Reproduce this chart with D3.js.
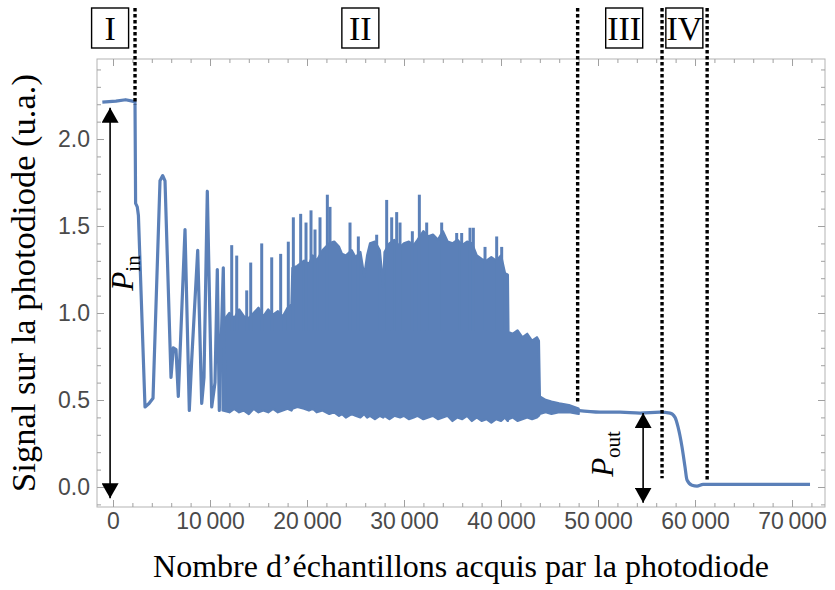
<!DOCTYPE html>
<html>
<head>
<meta charset="utf-8">
<script src="https://cdn.jsdelivr.net/npm/d3@7"></script>
<style>
  body { margin: 0; background: #fff; }
  svg { display: block; }
</style>
</head>
<body>
<div id="chart"></div>
<script>
// --- data ---
// region I and the first slow oscillations
const leadX = [-1100, 300, 1300, 2000, 2268, 2330, 2500, 2620, 3299, 3711, 4124, 4845, 5124, 5361, 5979, 6216, 6495, 6732, 7423, 7866, 8113, 8732, 9144, 9381, 9722, 10175, 10515, 10753, 10959, 11371, 11550];
const leadY = [2.212, 2.218, 2.226, 2.218, 2.214, 1.63, 1.61, 1.56, 0.46, 0.48, 0.51, 1.76, 1.79, 1.76, 0.63, 0.80, 0.79, 0.52, 1.48, 0.44, 0.73, 1.36, 0.48, 0.63, 1.70, 0.46, 0.60, 1.25, 0.44, 1.26, 0.45];

// dense part of region II: upper / lower envelope
const bandX = [11300, 12000, 12500, 13000, 13500, 14000, 14500, 15000, 15500, 16000,
    16500, 17000, 17500, 18000, 18400, 18500, 19000, 19700, 20200, 20600,
    21000, 21600, 22300, 22800, 23300, 23600, 24000, 24600, 25000, 25500,
    25900, 26200, 26500, 27000, 27500, 27850, 28000, 28500, 29000, 29600,
    30000, 30500, 31000, 31400, 32000, 32500, 33000, 33500, 34000, 34500,
    35000, 35500, 36000, 36500, 37000, 37500, 38000, 38500, 39000, 39500,
    40000, 40400, 40700, 40760, 41200, 41700, 42200, 42700, 43200, 43700,
    43900, 44000, 44600, 45200, 46000, 47000, 48000];
const bandHi = [0.95, 1.00, 0.97, 1.02, 0.98, 0.97, 1.00, 1.03, 0.98, 1.02,
    0.99, 1.01, 0.98, 1.03, 1.05, 1.26, 1.27, 1.30, 1.28, 1.33,
    1.30, 1.36, 1.40, 1.41, 1.38, 1.34, 1.33, 1.36, 1.32, 1.35,
    1.21, 1.33, 1.40, 1.41, 1.36, 1.15, 1.35, 1.40, 1.42, 1.38,
    1.40, 1.41, 1.39, 1.42, 1.47, 1.44, 1.45, 1.42, 1.47, 1.41,
    1.40, 1.42, 1.39, 1.41, 1.40, 1.33, 1.31, 1.30, 1.32, 1.30,
    1.33, 1.23, 1.22, 0.89, 0.88, 0.90, 0.86, 0.88, 0.84, 0.86,
    0.84, 0.52, 0.50, 0.49, 0.48, 0.47, 0.45];
const bandLo = [0.44, 0.43, 0.45, 0.43, 0.44, 0.42, 0.45, 0.43, 0.44, 0.43,
    0.45, 0.43, 0.44, 0.45, 0.44, 0.45, 0.46, 0.45, 0.44, 0.45,
    0.43, 0.44, 0.42, 0.43, 0.41, 0.42, 0.40, 0.42, 0.41, 0.40,
    0.42, 0.40, 0.41, 0.39, 0.41, 0.40, 0.41, 0.39, 0.41, 0.40,
    0.41, 0.39, 0.40, 0.41, 0.39, 0.40, 0.41, 0.39, 0.40, 0.41,
    0.38, 0.40, 0.39, 0.41, 0.38, 0.40, 0.38, 0.39, 0.37, 0.39,
    0.38, 0.40, 0.38, 0.39, 0.40, 0.38, 0.39, 0.40, 0.39, 0.40,
    0.41, 0.42, 0.43, 0.42, 0.43, 0.43, 0.42];

// isolated peaks sticking out of the dense part
const spikeX = [12237, 12753, 13784, 14196, 15330, 16361, 17285, 18072, 18591, 19347,
    19897, 20412, 20825, 21340, 22096, 22371, 24433, 25292, 27182, 28213,
    28729, 29244, 29588, 30859, 31581, 32337, 33883, 35430, 35945, 36804,
    37148, 38351, 39553, 40069];
const spikeY = [1.39, 1.33, 1.13, 1.29, 1.40, 1.32, 1.34, 1.41, 1.55, 1.57,
    1.52, 1.59, 1.48, 1.55, 1.68, 1.61, 1.52, 1.44, 1.45, 1.65,
    1.55, 1.58, 1.52, 1.47, 1.68, 1.52, 1.52, 1.46, 1.46, 1.49,
    1.49, 1.38, 1.44, 1.38];

// regions III / IV and after
const tailX = [47835, 50206, 52268, 54330, 56392, 57423, 57938, 58247, 58660, 58969, 59175, 59691, 60206, 60825, 71856];
const tailY = [0.44, 0.43, 0.43, 0.425, 0.43, 0.425, 0.40, 0.345, 0.23, 0.115, 0.04, 0.01, 0.005, 0.015, 0.015];

const xTicks = [0, 10000, 20000, 30000, 40000, 50000, 60000, 70000];
const xTickLabels = ["0", "10\u2009000", "20\u2009000", "30\u2009000", "40\u2009000", "50\u2009000", "60\u2009000", "70\u2009000"];
const yTicks = [0, 0.5, 1, 1.5, 2];
const yTickLabels = ["0.0", "0.5", "1.0", "1.5", "2.0"];

const regionNames = ["I", "II", "III", "IV"];
const regionCenters = [-300, 25500, 52700, 58900];
const dividerX = [2270, 47900, 56600, 61250];
const dividerEnd = [2.2, 0.48, 0.05, 0.04];

// arrows: P_in and P_out
const pInX = -300, pInTop = 2.18, pInBottom = -0.065;
const pOutX = 54650, pOutTop = 0.425, pOutBottom = -0.09;

// --- chart ---
const width = 835;
const height = 590;
const frame = { left: 97, right: 825, top: 59, bottom: 507 };
const blue = "#5b80b8";

const svg = d3.select("#chart")
    .append("svg")
    .attr("width", width)
    .attr("height", height);

const x = d3.scaleLinear().domain([-1650, 73400]).range([frame.left, frame.right]);
const y = d3.scaleLinear().domain([-0.115, 2.46]).range([frame.bottom, frame.top]);

// signal
const line = d3.line().x(d => x(d[0])).y(d => y(d[1]));

const band = bandX.map((v, i) => ({ x: v, hi: bandHi[i], lo: bandLo[i] }));
svg.append("path")
    .datum(band)
    .attr("d", d3.area().x(d => x(d.x)).y0(d => y(d.lo)).y1(d => y(d.hi)))
    .attr("fill", blue)
    .attr("stroke", blue)
    .attr("stroke-width", 2.4)
    .attr("stroke-linejoin", "round");

svg.selectAll(".spike")
    .data(spikeX.map((v, i) => [v, spikeY[i]]))
    .enter().append("line")
    .attr("class", "spike")
    .attr("x1", d => x(d[0])).attr("x2", d => x(d[0]))
    .attr("y1", y(0.9)).attr("y2", d => y(d[1]))
    .attr("stroke", blue)
    .attr("stroke-width", 3);

svg.append("path")
    .datum(leadX.map((v, i) => [v, leadY[i]]))
    .attr("d", line)
    .attr("fill", "none")
    .attr("stroke", blue)
    .attr("stroke-width", 3.2)
    .attr("stroke-linejoin", "round");

svg.append("path")
    .datum(tailX.map((v, i) => [v, tailY[i]]))
    .attr("d", line.curve(d3.curveMonotoneX))
    .attr("fill", "none")
    .attr("stroke", blue)
    .attr("stroke-width", 3.2)
    .attr("stroke-linejoin", "round");

// frame and ticks
svg.append("rect")
    .attr("x", frame.left).attr("y", frame.top)
    .attr("width", frame.right - frame.left)
    .attr("height", frame.bottom - frame.top)
    .attr("fill", "none")
    .attr("stroke", "#b3b3b3")
    .attr("stroke-width", 1);

const xMinor = d3.range(2000, 72001, 2000).filter(v => v % 10000 !== 0);
const yMinor = d3.range(-1, 25).map(v => v / 10).filter(v => Math.round(v * 10) % 5 !== 0);

function tickAxis(axis, values, size) {
    return axis.tickValues(values).tickSize(size).tickFormat("");
}

const bottomG = svg.append("g").attr("transform", `translate(0,${frame.bottom})`);
bottomG.append("g").call(d3.axisBottom(x).tickValues(xTicks).tickSize(-7).tickPadding(6)
    .tickFormat((d, i) => xTickLabels[i]));
bottomG.append("g").call(tickAxis(d3.axisBottom(x), xMinor, -4));

const topG = svg.append("g").attr("transform", `translate(0,${frame.top})`);
topG.append("g").call(tickAxis(d3.axisTop(x), xTicks, -7));
topG.append("g").call(tickAxis(d3.axisTop(x), xMinor, -4));

const leftG = svg.append("g").attr("transform", `translate(${frame.left},0)`);
leftG.append("g").call(d3.axisLeft(y).tickValues(yTicks).tickSize(-7).tickPadding(7)
    .tickFormat((d, i) => yTickLabels[i]));
leftG.append("g").call(tickAxis(d3.axisLeft(y), yMinor, -4));

const rightG = svg.append("g").attr("transform", `translate(${frame.right},0)`);
rightG.append("g").call(tickAxis(d3.axisRight(y), yTicks, -7));
rightG.append("g").call(tickAxis(d3.axisRight(y), yMinor, -4));

svg.selectAll(".domain").remove();
svg.selectAll(".tick line").attr("stroke", "#a0a0a0");
svg.selectAll(".tick text")
    .attr("fill", "#4a4a4a")
    .style("font-family", "'Liberation Sans', Arial, sans-serif")
    .style("font-size", "23px");

// axis titles
svg.append("text")
    .attr("x", (frame.left + frame.right) / 2)
    .attr("y", 577)
    .attr("text-anchor", "middle")
    .style("font-family", "'Liberation Serif', 'Times New Roman', serif")
    .style("font-size", "32px")
    .text("Nombre d’échantillons acquis par la photodiode");

svg.append("text")
    .attr("transform", `translate(35,${(frame.top + frame.bottom) / 2}) rotate(-90)`)
    .attr("text-anchor", "middle")
    .style("font-family", "'Liberation Serif', 'Times New Roman', serif")
    .style("font-size", "34.5px")
    .text("Signal sur la photodiode (u.a.)");

// region dividers
svg.selectAll(".divider")
    .data(dividerX.map((v, i) => [v, dividerEnd[i]]))
    .enter().append("line")
    .attr("class", "divider")
    .attr("x1", d => x(d[0])).attr("x2", d => x(d[0]))
    .attr("y1", 8).attr("y2", d => y(d[1]))
    .attr("stroke", "#000")
    .attr("stroke-width", 3.4)
    .attr("stroke-dasharray", "3.4 2.6");

// region labels in boxes
const boxes = svg.selectAll(".region")
    .data(regionNames.map((n, i) => [n, regionCenters[i]]))
    .enter().append("g")
    .attr("class", "region")
    .attr("transform", d => `translate(${x(d[1])},0)`);
boxes.append("rect")
    .attr("x", -18.5).attr("y", 8)
    .attr("width", 37).attr("height", 40)
    .attr("fill", "#fff")
    .attr("stroke", "#000")
    .attr("stroke-width", 1.4);
boxes.append("text")
    .attr("y", 40)
    .attr("text-anchor", "middle")
    .style("font-family", "'Liberation Serif', 'Times New Roman', serif")
    .style("font-size", "34px")
    .text(d => d[0]);

// double arrows
svg.append("defs").append("marker")
    .attr("id", "head")
    .attr("viewBox", "0 0 15 17")
    .attr("refX", 15).attr("refY", 8.5)
    .attr("markerWidth", 15).attr("markerHeight", 17)
    .attr("markerUnits", "userSpaceOnUse")
    .attr("orient", "auto-start-reverse")
    .append("path")
    .attr("d", "M0,0L15,8.5L0,17Z")
    .attr("fill", "#000");

[[pInX, pInTop, pInBottom], [pOutX, pOutTop, pOutBottom]].forEach(a => {
    svg.append("line")
        .attr("x1", x(a[0])).attr("x2", x(a[0]))
        .attr("y1", y(a[2])).attr("y2", y(a[1]))
        .attr("stroke", "#000")
        .attr("stroke-width", 1.6)
        .attr("marker-start", "url(#head)")
        .attr("marker-end", "url(#head)");
});

function powerLabel(px, py, sub) {
    const t = svg.append("text")
        .attr("transform", `translate(${px},${py}) rotate(-90)`)
        .attr("text-anchor", "middle")
        .style("font-family", "'Liberation Serif', 'Times New Roman', serif")
        .style("font-size", "31px");
    t.append("tspan").style("font-style", "italic").text("P");
    t.append("tspan").attr("dy", 7).style("font-size", "21px").text(sub);
}
powerLabel(x(2060), y(1.23), "in");
powerLabel(x(51550), y(0.19), "out");
</script>
</body>
</html>
